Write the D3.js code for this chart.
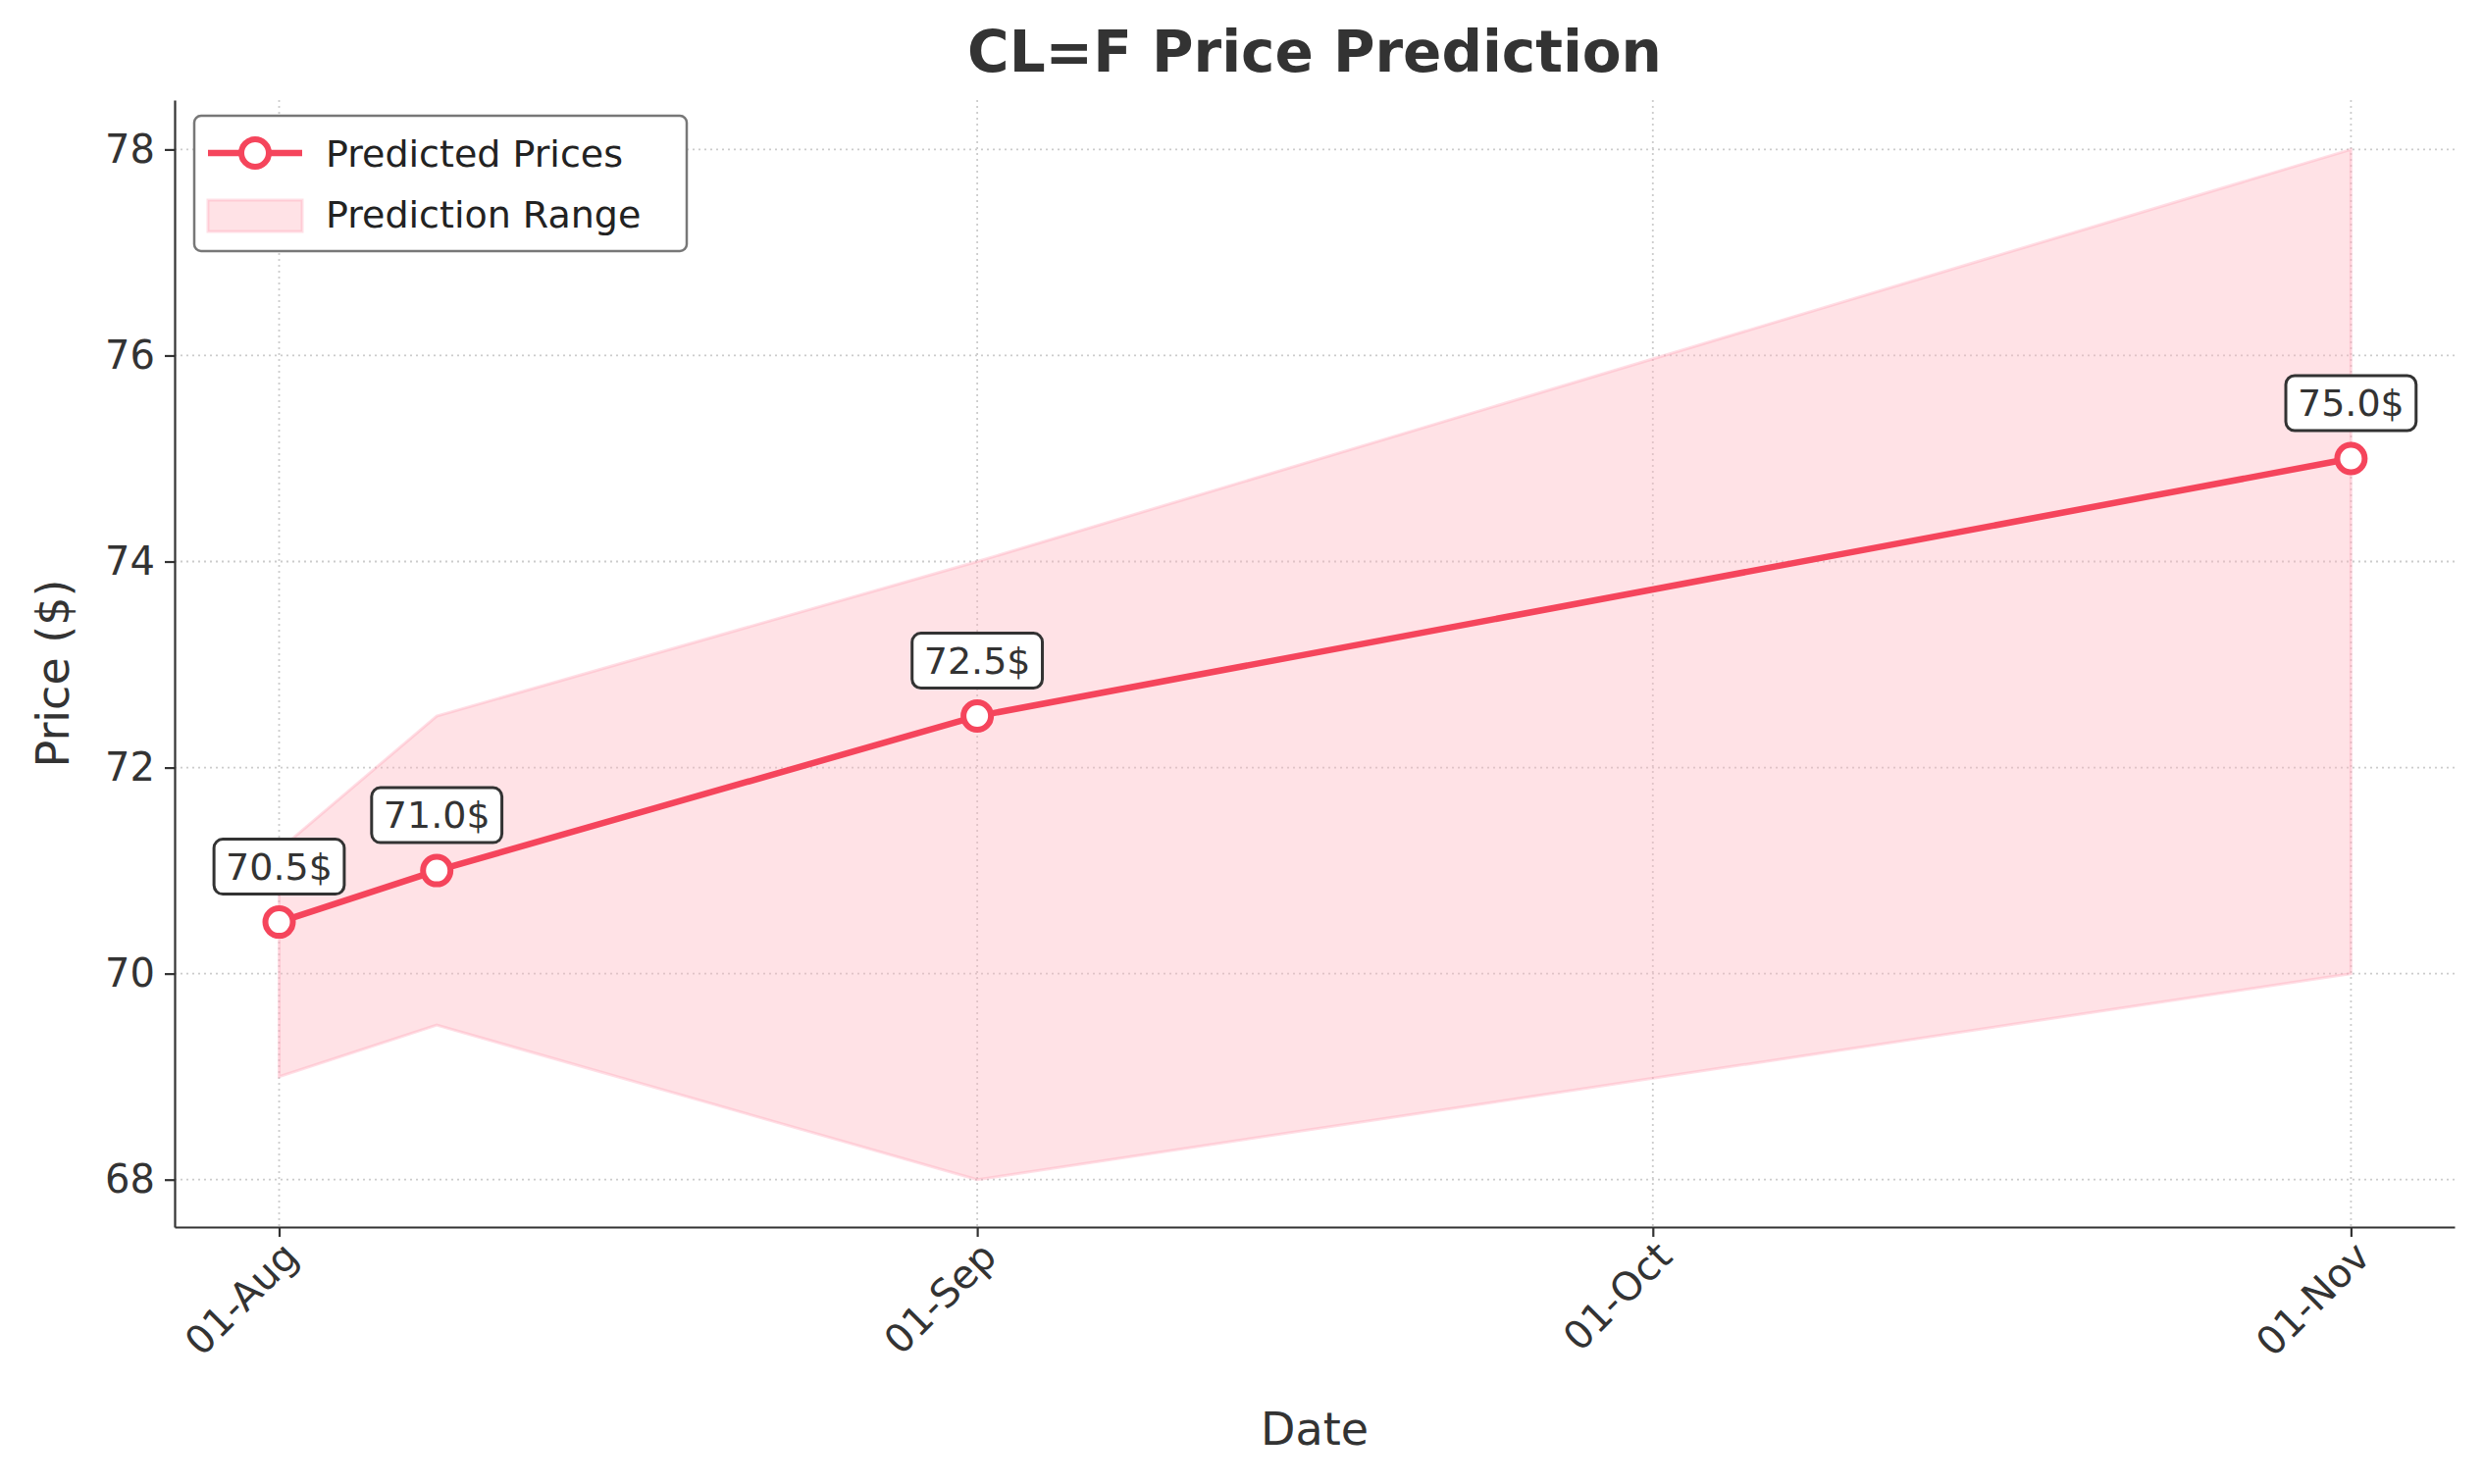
<!DOCTYPE html>
<html><head><meta charset="utf-8">
<script src="https://cdn.jsdelivr.net/npm/d3@7"></script>
<style>body{margin:0;background:#fff;font-family:"DejaVu Sans",sans-serif}</style>
</head><body><svg id="chart"></svg>
<script>
const dates = ["2024-08-01", "2024-08-08", "2024-09-01", "2024-11-01"];
const predicted = [70.5, 71.0, 72.5, 75.0];
const lower = [69.0, 69.5, 68.0, 70.0];
const upper = [71.2, 72.5, 74.0, 78.0];
const xTicks = ["2024-08-01", "2024-09-01", "2024-10-01", "2024-11-01"];
const yTicks = [68, 70, 72, 74, 76, 78];

const W = 2531, H = 1513;
const margin = { top: 102, right: 29, bottom: 262, left: 178 };
const width = W - margin.left - margin.right;
const height = H - margin.top - margin.bottom;
const parse = d3.timeParse("%Y-%m-%d");
const data = dates.map((d, i) => ({ date: parse(d), p: predicted[i], lo: lower[i], hi: upper[i] }));

const svg = d3.select("#chart").attr("width", W).attr("height", H);
const g = svg.append("g").attr("transform", `translate(${margin.left},${margin.top})`);

const day = 86400000;
const x = d3.scaleTime()
  .domain([new Date(+parse("2024-08-01") - 4.64 * day), new Date(+parse("2024-11-01") + 4.6 * day)])
  .range([0, width]);
const y = d3.scaleLinear().domain([67.54, 78.48]).range([height, 0]);

// grid
g.selectAll(".gx").data(xTicks.map(parse)).enter().append("line")
  .attr("x1", d => x(d)).attr("x2", d => x(d)).attr("y1", 0).attr("y2", height)
  .attr("stroke", "#ccc").attr("stroke-dasharray", "2,4").attr("stroke-width", 1.8);
g.selectAll(".gy").data(yTicks).enter().append("line")
  .attr("y1", d => y(d)).attr("y2", d => y(d)).attr("x1", 0).attr("x2", width)
  .attr("stroke", "#ccc").attr("stroke-dasharray", "2,4").attr("stroke-width", 1.8);

// band
g.append("path").datum(data)
  .attr("d", d3.area().x(d => x(d.date)).y0(d => y(d.lo)).y1(d => y(d.hi)))
  .attr("fill", "rgba(255,182,193,0.4)").attr("stroke", "rgba(255,160,180,0.35)").attr("stroke-width", 3);

// line
g.append("path").datum(data)
  .attr("d", d3.line().x(d => x(d.date)).y(d => y(d.p)))
  .attr("fill", "none").attr("stroke", "#f5455c").attr("stroke-width", 6.5);
g.selectAll("circle").data(data).enter().append("circle")
  .attr("cx", d => x(d.date)).attr("cy", d => y(d.p)).attr("r", 14)
  .attr("fill", "#fff").attr("stroke", "#f5455c").attr("stroke-width", 6);

// labels
data.forEach(d => {
  const cx = x(d.date), cy = y(d.p) - 54;
  const t = g.append("text").attr("x", cx).attr("y", cy).attr("text-anchor", "middle")
    .attr("dominant-baseline", "middle").attr("font-size", 38).attr("fill", "#333").text(d.p.toFixed(1) + "$");
  const b = t.node().getBBox();
  g.insert("rect", "text").attr("x", b.x - 12).attr("y", b.y - 6).attr("width", b.width + 24)
    .attr("height", b.height + 12).attr("rx", 9).attr("fill", "#fff").attr("stroke", "#333").attr("stroke-width", 3);
});

// axes
const fmt = d3.timeFormat("%d-%b");
const xa = g.append("g").attr("transform", `translate(0,${height})`)
  .call(d3.axisBottom(x).tickValues(xTicks.map(parse)).tickFormat(fmt).tickSize(10).tickSizeOuter(0).tickPadding(8));
xa.selectAll("text").attr("font-size", 40).attr("fill", "#333").style("text-anchor", "end")
  .attr("transform", "rotate(-45)").attr("dx", "-0.2em").attr("dy", "0.5em");
const ya = g.append("g").call(d3.axisLeft(y).tickValues(yTicks).tickSize(10).tickSizeOuter(0).tickPadding(10));
ya.selectAll("text").attr("font-size", 40).attr("fill", "#333");
[xa, ya].forEach(a => { a.selectAll("path,line").attr("stroke", "#333").attr("stroke-width", 2.2); a.attr("font-family", "DejaVu Sans"); });

svg.append("text").attr("x", margin.left + width / 2).attr("y", 73).attr("text-anchor", "middle")
  .attr("font-size", 58).attr("font-weight", "bold").attr("fill", "#333").text("CL=F Price Prediction");
svg.append("text").attr("x", margin.left + width / 2).attr("y", 1473).attr("text-anchor", "middle")
  .attr("font-size", 46).attr("fill", "#333").text("Date");
svg.append("text").attr("transform", `translate(70,${margin.top + height / 2 + 10}) rotate(-90)`).attr("text-anchor", "middle")
  .attr("font-size", 46).attr("fill", "#333").text("Price ($)");

// legend
const lg = svg.append("g").attr("transform", "translate(198,118)");
lg.append("rect").attr("width", 502).attr("height", 138).attr("rx", 7).attr("fill", "#fff")
  .attr("stroke", "#777").attr("stroke-width", 2.5);
lg.append("line").attr("x1", 14).attr("x2", 110).attr("y1", 38).attr("y2", 38).attr("stroke", "#f5455c").attr("stroke-width", 6.5);
lg.append("circle").attr("cx", 62).attr("cy", 38).attr("r", 14).attr("fill", "#fff").attr("stroke", "#f5455c").attr("stroke-width", 6);
lg.append("rect").attr("x", 14).attr("y", 86).attr("width", 96).attr("height", 32)
  .attr("fill", "rgba(255,182,193,0.4)").attr("stroke", "rgba(255,160,180,0.35)").attr("stroke-width", 3);
lg.append("text").attr("x", 134).attr("y", 52).attr("font-size", 38).attr("fill", "#222").text("Predicted Prices");
lg.append("text").attr("x", 134).attr("y", 114).attr("font-size", 38).attr("fill", "#222").text("Prediction Range");
</script></body></html>
